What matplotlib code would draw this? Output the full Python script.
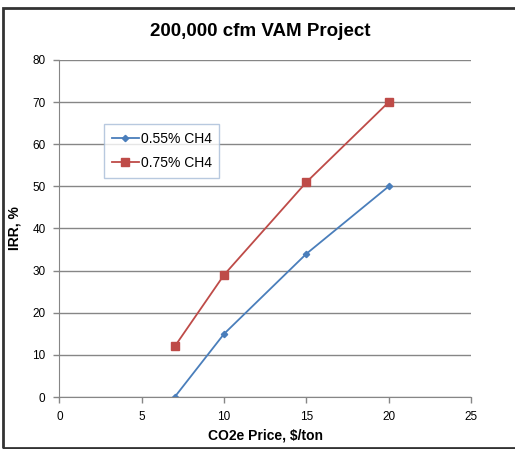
import matplotlib.pyplot as plt
from matplotlib.patches import Rectangle

# Data
price = [7, 10, 15, 20]
irr_055 = [0, 15, 34, 50]
irr_075 = [12, 29, 51, 70]
series_labels = ["0.55% CH4", "0.75% CH4"]

x_ticks = [0, 5, 10, 15, 20, 25]
y_ticks = [0, 10, 20, 30, 40, 50, 60, 70, 80]

plt.rcParams['font.family'] = ['Liberation Sans', 'DejaVu Sans']

fig = plt.figure(figsize=(5.15, 4.49), dpi=100)
ax = fig.add_axes([0.1155, 0.1158, 0.7991, 0.7506])

grid_col = "#868686"
ax.plot(price, irr_055, color="#4a7ebb", marker="D", markersize=3.2,
        linewidth=1.3, label=series_labels[0])
ax.plot(price, irr_075, color="#be4b48", marker="s", markersize=5.5,
        linewidth=1.3, label=series_labels[1])

ax.set_xlim(0, 25)
ax.set_ylim(0, 80)
ax.set_xticks(x_ticks)
ax.set_yticks(y_ticks)
ax.yaxis.grid(True, color=grid_col, linewidth=1)
ax.set_axisbelow(True)
for s in ["top", "right"]:
    ax.spines[s].set_visible(False)
for s in ["left", "bottom"]:
    ax.spines[s].set_color(grid_col)
ax.tick_params(axis="both", colors=grid_col, labelcolor="black",
               labelsize=8.5, length=4, width=1)
ax.tick_params(axis="x", pad=6)
ax.tick_params(axis="y", pad=6)

ax.set_xlabel("CO2e Price, $/ton", fontsize=10, fontweight="bold", labelpad=4)
ax.set_ylabel("IRR, %", fontsize=10, fontweight="bold", labelpad=8)
fig.text(0.505, 0.929, "200,000 cfm VAM Project", ha="center", va="center",
         fontsize=13.5, fontweight="bold")

leg = ax.legend(loc="upper left", bbox_to_anchor=(0.108, 0.81), fontsize=10,
                frameon=True, fancybox=False, handlelength=2.0,
                handletextpad=0.1, borderpad=0.55, labelspacing=0.75,
                borderaxespad=0)
leg.get_frame().set_edgecolor("#a6bcd8")
leg.get_frame().set_linewidth(1)

# outer chart border
fig.patches.append(Rectangle((0.005, 0.003), 1.2, 0.98, transform=fig.transFigure,
                             fill=False, edgecolor="#333333", linewidth=2))

fig.savefig("out.png", dpi=100)
